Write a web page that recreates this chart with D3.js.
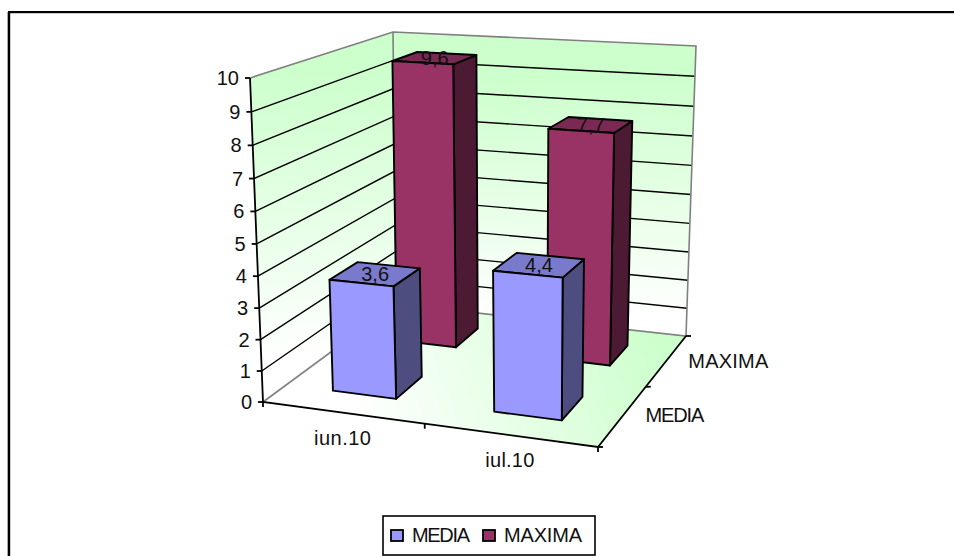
<!DOCTYPE html>
<html>
<head>
<meta charset="utf-8">
<script src="https://cdn.jsdelivr.net/npm/d3@7"></script>
<style>
  html, body { margin: 0; padding: 0; background: #fff; }
  svg { display: block; }
  text { font-family: "Liberation Sans", Arial, sans-serif; fill: #111; }
</style>
</head>
<body>
<svg id="chart" width="954" height="556"></svg>
<script>
// Chart data
const categories = ["iun.10", "iul.10"];
const seriesNames = ["MEDIA", "MAXIMA"];
const mediaValues = [3.6, 4.4];
const maximaValues = [9.6, 7.7];
const valueTicks = d3.range(0, 11);
const valueLabels = ["0", "1", "2", "3", "4", "5", "6", "7", "8", "9", "10"];

// Face colours per series: front, top, side
const faceColors = {
  MEDIA: ["#9999ff", "#7a7acc", "#4d4d80"],
  MAXIMA: ["#993366", "#7a2952", "#4d1a33"]
};

// Screen corners of the 3D box: front-left, front-right, back-right, back-left
const floorCorners = [[263, 402], [598, 447], [686, 336], [396, 304]];
const ceilingCorners = [[250, 78], [603, 100], [696, 46], [393, 32]];

// Unit square to quadrilateral homography
function quadMap(q) {
  const [[x0, y0], [x1, y1], [x2, y2], [x3, y3]] = q;
  const dx1 = x1 - x2, dx2 = x3 - x2, sx = x0 - x1 + x2 - x3;
  const dy1 = y1 - y2, dy2 = y3 - y2, sy = y0 - y1 + y2 - y3;
  const den = dx1 * dy2 - dx2 * dy1;
  const g = (sx * dy2 - dx2 * sy) / den;
  const h = (dx1 * sy - sx * dy1) / den;
  return (u, v) => {
    const w = 1 + g * u + h * v;
    return [
      (x0 + u * (x1 - x0 + g * x1) + v * (x3 - x0 + h * x3)) / w,
      (y0 + u * (y1 - y0 + g * y1) + v * (y3 - y0 + h * y3)) / w
    ];
  };
}
const floorMap = quadMap(floorCorners);
const ceilingMap = quadMap(ceilingCorners);

// Scales: value to height fraction, category to width, series to depth
const valueScale = d3.scaleLinear().domain([0, 10]).range([0, 1]);
const catScale = d3.scaleBand().domain(categories).range([0, 1]).paddingInner(0.6).paddingOuter(0.3);
const depthScale = d3.scaleBand().domain(seriesNames).range([0, 1]).paddingInner(0.592).paddingOuter(0.316);

// World position to screen; heights compress slightly with perspective
function project(u, value, v) {
  const r = valueScale(value);
  const s = r / (1 + 0.05 * (1 - r));
  const a = floorMap(u, v), b = ceilingMap(u, v);
  return [a[0] + (b[0] - a[0]) * s, a[1] + (b[1] - a[1]) * s];
}
const pathOf = pts => d3.line()(pts) + "Z";

const svg = d3.select("#chart");
const defs = svg.append("defs");

function gradient(id, x1, y1, x2, y2) {
  const g = defs.append("linearGradient").attr("id", id)
    .attr("gradientUnits", "userSpaceOnUse")
    .attr("x1", x1).attr("y1", y1).attr("x2", x2).attr("y2", y2);
  g.append("stop").attr("offset", 0).attr("stop-color", "#ccffcc");
  g.append("stop").attr("offset", 1).attr("stop-color", "#ffffff");
}
gradient("leftWallFill", 0, 70, 0, 360);
gradient("backWallFill", 0, 75, 0, 320);
gradient("floorFill", 660, 340, 370, 455);

// Outer frame: only the top and left edges are visible
svg.append("rect").attr("x", 7).attr("y", 12).attr("width", 1.4).attr("height", 544).attr("fill", "#aaa");
svg.append("rect").attr("x", 8).attr("y", 11).attr("width", 946).attr("height", 2.2).attr("fill", "#000");
svg.append("rect").attr("x", 8).attr("y", 11).attr("width", 2.2).attr("height", 545).attr("fill", "#000");

// Walls and floor
const maxV = 10;
svg.append("path").attr("d", pathOf([project(0, 0, 0), project(0, maxV, 0), project(0, maxV, 1), project(0, 0, 1)]))
  .attr("fill", "url(#leftWallFill)");
svg.append("path").attr("d", pathOf([project(0, 0, 1), project(0, maxV, 1), project(1, maxV, 1), project(1, 0, 1)]))
  .attr("fill", "url(#backWallFill)");
svg.append("path").attr("d", pathOf([project(0, 0, 0), project(1, 0, 0), project(1, 0, 1), project(0, 0, 1)]))
  .attr("fill", "url(#floorFill)");

// Gridlines on both walls
svg.append("g").selectAll("path").data(valueTicks.filter(t => t > 0 && t < maxV)).join("path")
  .attr("d", t => d3.line()([project(0, t, 0), project(0, t, 1), project(1, t, 1)]))
  .attr("fill", "none").attr("stroke", "#000").attr("stroke-width", 1.4);

// Grey outline of walls and floor
svg.append("path")
  .attr("d", d3.line()([project(0, 0, 0), project(0, 0, 1), project(1, 0, 1), project(1, maxV, 1), project(0, maxV, 1), project(0, maxV, 0)]))
  .attr("fill", "none").attr("stroke", "#808080").attr("stroke-width", 1.6);
svg.append("path").attr("d", d3.line()([project(0, 0, 1), project(0, maxV, 1)]))
  .attr("fill", "none").attr("stroke", "#808080").attr("stroke-width", 1.6);

// Axis lines
const axes = svg.append("g").attr("fill", "none").attr("stroke", "#000").attr("stroke-width", 1.8);
axes.append("path").attr("d", d3.line()([project(0, maxV, 0), project(0, 0, 0), project(1, 0, 0), project(1, 0, 1)]));

// Value axis ticks and labels
const tickLen = 5;
const fontSize = 20;
valueTicks.forEach((t, i) => {
  const [x, y] = project(0, t, 0);
  axes.append("path").attr("d", d3.line()([[x - tickLen, y], [x, y]]));
  svg.append("text").attr("x", x - 11).attr("y", y + 7)
    .attr("text-anchor", "end").attr("font-size", fontSize).text(valueLabels[i]);
});

// Category axis ticks and labels
[0, 0.5, 1].forEach(u => {
  const [x, y] = project(u, 0, 0);
  axes.append("path").attr("d", d3.line()([[x, y], [x, y + tickLen]]));
});
const catWidths = [57, 49];
categories.forEach((c, i) => {
  const [x, y] = project(catScale(c) + catScale.bandwidth() / 2, 0, 0);
  svg.append("text").attr("x", x).attr("y", y + 32).attr("text-anchor", "middle")
    .attr("font-size", fontSize).attr("textLength", catWidths[i]).text(c);
});

// Depth axis ticks and labels
[0, 0.5, 1].forEach(v => {
  const [x, y] = project(1, 0, v);
  axes.append("path").attr("d", d3.line()([[x, y], [x + tickLen, y]]));
});
const depthWidths = [59, 80];
seriesNames.forEach((s, i) => {
  const [x, y] = project(1, 0, depthScale(s) + depthScale.bandwidth() / 2);
  svg.append("text").attr("x", x + 22).attr("y", y + 7)
    .attr("font-size", fontSize).attr("textLength", depthWidths[i]).text(s);
});

// Bars, back row first so the front row overlaps it
const barRows = [
  { name: "MAXIMA", values: maximaValues },
  { name: "MEDIA", values: mediaValues }
];
const labelText = d3.format(".1f");
barRows.forEach(row => {
  const [frontFill, topFill, sideFill] = faceColors[row.name];
  const v0 = depthScale(row.name), v1 = v0 + depthScale.bandwidth();
  row.values.forEach((val, i) => {
    const u0 = catScale(categories[i]), u1 = u0 + catScale.bandwidth();
    const g = svg.append("g").attr("stroke", "#000").attr("stroke-width", 1.9).attr("stroke-linejoin", "round");
    g.append("path").attr("fill", sideFill)
      .attr("d", pathOf([project(u1, 0, v0), project(u1, val, v0), project(u1, val, v1), project(u1, 0, v1)]));
    g.append("path").attr("fill", topFill)
      .attr("d", pathOf([project(u0, val, v0), project(u1, val, v0), project(u1, val, v1), project(u0, val, v1)]));
    g.append("path").attr("fill", frontFill)
      .attr("d", pathOf([project(u0, 0, v0), project(u1, 0, v0), project(u1, val, v0), project(u0, val, v0)]));
    const [cx, cy] = project((u0 + u1) / 2, val, (v0 + v1) / 2);
    svg.append("text").attr("x", cx).attr("y", cy + 7).attr("text-anchor", "middle")
      .attr("font-size", fontSize).text(labelText(val).replace(".", ","));
  });
});

// Legend
const legend = svg.append("g");
legend.append("rect").attr("x", 383).attr("y", 516).attr("width", 212).attr("height", 39)
  .attr("fill", "#fff").attr("stroke", "#000").attr("stroke-width", 1.6);
const legendSwatchX = [391, 483];
const legendTextX = [412, 504];
const legendWidths = [58, 78];
seriesNames.forEach((s, i) => {
  legend.append("rect").attr("x", legendSwatchX[i]).attr("y", 530).attr("width", 12).attr("height", 11)
    .attr("fill", faceColors[s][0]).attr("stroke", "#000").attr("stroke-width", 1.8);
  legend.append("text").attr("x", legendTextX[i]).attr("y", 542)
    .attr("font-size", fontSize).attr("textLength", legendWidths[i]).text(s);
});
</script>
</body>
</html>
